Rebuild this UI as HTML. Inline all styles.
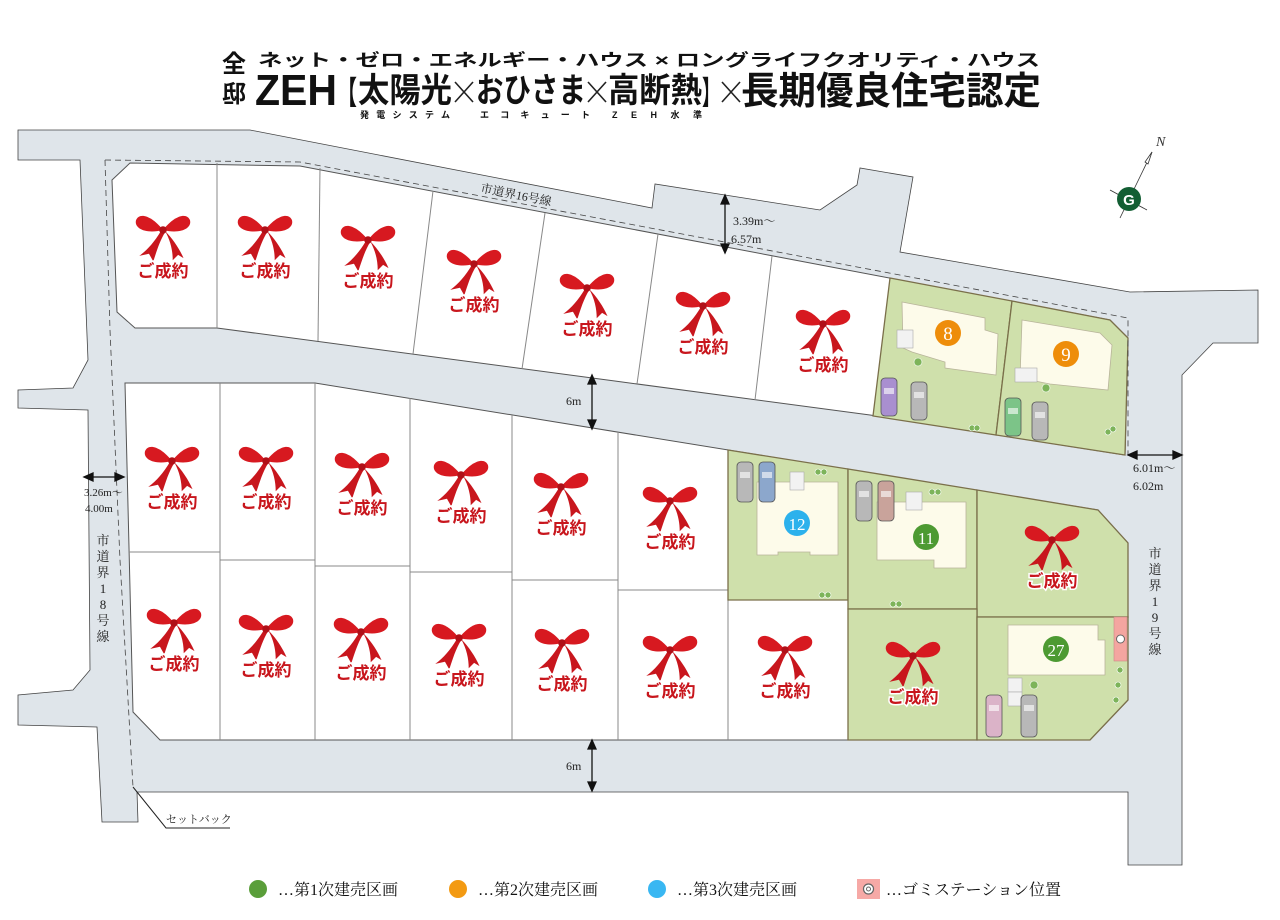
<!DOCTYPE html>
<html><head><meta charset="utf-8"><style>
html,body{margin:0;padding:0;background:#fff;}
svg{display:block;}
.s{font-family:"Liberation Serif","Noto Serif CJK SC","Noto Sans CJK JP",serif;}
.g{font-family:"Liberation Sans","Noto Sans CJK JP",sans-serif;font-weight:bold;}
</style></head><body>
<svg width="1280" height="920" viewBox="0 0 1280 920" xmlns="http://www.w3.org/2000/svg">
<defs>
<g id="bow" transform="scale(1.08)">
<path d="M0,0 C-10,-13 -22,-17 -25,-9 C-27,-1 -15,4 0,0Z" fill="#d71920"/>
<path d="M0,0 C10,-13 22,-17 25,-9 C27,-1 15,4 0,0Z" fill="#d71920"/>
<path d="M-2,1 C-8,11 -14,18 -22,24 L-13,22 L-9,29 C-6,20 -3,10 2,2Z" fill="#c8161d"/>
<path d="M2,1 C7,10 9,19 9,28 L14,23 L19,26 C15,17 9,8 2,1Z" fill="#c8161d"/>
<circle cx="0" cy="0" r="3.5" fill="#b01018"/>
</g>
</defs>

<!-- Title -->
<g class="g" fill="#111">
<text x="222" y="72" font-size="24">全</text>
<text x="222" y="102" font-size="24">邸</text>
<text x="258" y="66" font-size="17" textLength="782" lengthAdjust="spacingAndGlyphs">ネット・ゼロ・エネルギー・ハウス × ロングライフクオリティ・ハウス</text>
<text x="255" y="105" font-size="44" textLength="82" lengthAdjust="spacingAndGlyphs">ZEH</text>
<text x="337" y="104" font-size="32" textLength="20" lengthAdjust="spacingAndGlyphs">【</text>
<text x="358" y="102" font-size="34" textLength="94" lengthAdjust="spacingAndGlyphs">太陽光</text>
<text x="476" y="102" font-size="34" textLength="110" lengthAdjust="spacingAndGlyphs">おひさま</text>
<text x="608" y="102" font-size="34" textLength="94" lengthAdjust="spacingAndGlyphs">高断熱</text>
<text x="702" y="104" font-size="32" textLength="18" lengthAdjust="spacingAndGlyphs">】</text>
<text x="741" y="104" font-size="38" textLength="300" lengthAdjust="spacingAndGlyphs">長期優良住宅認定</text>
<text x="360" y="118" font-size="9" textLength="90" lengthAdjust="spacing">発電システム</text>
<text x="480" y="118" font-size="9" textLength="110" lengthAdjust="spacing">エコキュート</text>
<text x="612" y="118" font-size="9" textLength="90" lengthAdjust="spacing">ZEH水準</text>
</g>
<g stroke="#222" stroke-width="1.6">
<line x1="455" y1="82" x2="473" y2="102"/><line x1="473" y1="82" x2="455" y2="102"/>
<line x1="588" y1="82" x2="606" y2="102"/><line x1="606" y1="82" x2="588" y2="102"/>
<line x1="722" y1="82" x2="740" y2="102"/><line x1="740" y1="82" x2="722" y2="102"/>
</g>

<!-- Roads -->
<polygon points="18,130 250,130 652,208 655,184 820,210 857,185 860,168 913,177 900,252 1130,292 1258,290 1258,343 1213,343 1182,375 1182,865 1128,865 1128,792 137,792 138,822 102,822 97,727 18,725 18,695 73,690 90,670 88,410 18,408 18,390 73,388 88,360 80,160 18,160" fill="#dfe5ea" stroke="#444" stroke-width="0.8"/>

<!-- Upper block -->
<polygon points="112,180 130,163 300,166 1110,320 1128,338 1125,455 870,415 217,328 135,328 117,312" fill="#fff" stroke="#555" stroke-width="1"/>
<g stroke="#888" stroke-width="1">
<line x1="217" y1="163" x2="217" y2="328"/>
<line x1="320" y1="168" x2="318" y2="341"/>
<line x1="433" y1="191" x2="413" y2="354"/>
<line x1="545" y1="213" x2="522" y2="369"/>
<line x1="658" y1="234" x2="637" y2="384"/>
<line x1="772" y1="256" x2="755" y2="400"/>
</g>
<!-- Lower block -->
<polygon points="125,383 315,383 1098,510 1128,543 1128,700 1090,740 160,740 133,712" fill="#fff" stroke="#555" stroke-width="1"/>
<g stroke="#888" stroke-width="1">
<line x1="220" y1="383" x2="220" y2="740"/>
<line x1="315" y1="383" x2="315" y2="740"/>
<line x1="410" y1="398" x2="410" y2="740"/>
<line x1="512" y1="415" x2="512" y2="740"/>
<line x1="618" y1="432" x2="618" y2="740"/>
<line x1="728" y1="450" x2="728" y2="740"/>
<line x1="129" y1="552" x2="220" y2="552"/>
<line x1="220" y1="560" x2="315" y2="560"/>
<line x1="315" y1="566" x2="410" y2="566"/>
<line x1="410" y1="572" x2="512" y2="572"/>
<line x1="512" y1="580" x2="618" y2="580"/>
<line x1="618" y1="590" x2="728" y2="590"/>
<line x1="728" y1="600" x2="848" y2="600"/>
</g>

<!-- Green lots -->
<g fill="#cfe0ab" stroke="#7a6f4a" stroke-width="1.3">
<polygon points="890,278 1012,301 996,435 873,416"/>
<polygon points="1012,301 1110,320 1128,338 1125,455 996,435"/>
<polygon points="728,450 848,469 848,600 728,600"/>
<polygon points="848,469 977,490 977,609 848,609"/>
<polygon points="977,490 1098,510 1128,543 1128,617 977,617"/>
<polygon points="848,609 977,609 977,740 848,740"/>
<polygon points="977,617 1128,617 1128,700 1090,740 977,740"/>
</g>

<!-- Houses -->
<g fill="#fdfbea" stroke="#b8b49a" stroke-width="0.8">
<polygon points="902,302 985,318 985,330 998,334 996,375 945,368 945,362 912,352 903,348"/>
<polygon points="1022,320 1100,333 1112,345 1108,390 1050,384 1020,378"/>
<polygon points="757,482 838,482 838,555 810,555 810,552 778,552 778,555 757,555"/>
<polygon points="877,502 966,502 966,568 934,568 934,560 877,560"/>
<polygon points="1008,625 1098,625 1098,640 1105,640 1105,675 1008,675"/>
</g>
<g fill="#f2f2f2" stroke="#aaa" stroke-width="0.6">
<rect x="897" y="330" width="16" height="18"/><rect x="1015" y="368" width="22" height="14"/>
<rect x="790" y="472" width="14" height="18"/><rect x="906" y="492" width="16" height="18"/>
<rect x="1008" y="678" width="14" height="14"/><rect x="1008" y="692" width="14" height="14"/>
</g>
<!-- Cars -->
<g stroke="#555" stroke-width="0.8">
<rect x="881" y="378" width="16" height="38" rx="4" fill="#a98fd0"/>
<rect x="911" y="382" width="16" height="38" rx="4" fill="#b8b8b8"/>
<rect x="1005" y="398" width="16" height="38" rx="4" fill="#7cc488"/>
<rect x="1032" y="402" width="16" height="38" rx="4" fill="#b8b8b8"/>
<rect x="737" y="462" width="16" height="40" rx="4" fill="#b8b8b8"/>
<rect x="759" y="462" width="16" height="40" rx="4" fill="#8ca7cc"/>
<rect x="856" y="481" width="16" height="40" rx="4" fill="#b8b8b8"/>
<rect x="878" y="481" width="16" height="40" rx="4" fill="#c9a39b"/>
<rect x="986" y="695" width="16" height="42" rx="4" fill="#dbb3c8"/>
<rect x="1021" y="695" width="16" height="42" rx="4" fill="#b8b8b8"/>
</g>
<g fill="#fff" opacity="0.6">
<rect x="884" y="388" width="10" height="6"/><rect x="914" y="392" width="10" height="6"/>
<rect x="1008" y="408" width="10" height="6"/><rect x="1035" y="412" width="10" height="6"/>
<rect x="740" y="472" width="10" height="6"/><rect x="762" y="472" width="10" height="6"/>
<rect x="859" y="491" width="10" height="6"/><rect x="881" y="491" width="10" height="6"/>
<rect x="989" y="705" width="10" height="6"/><rect x="1024" y="705" width="10" height="6"/>
</g>
<!-- shrubs -->
<g fill="#7db45a" stroke="#fff" stroke-width="0.6">
<circle cx="918" cy="362" r="4"/><circle cx="972" cy="428" r="3"/><circle cx="977" cy="428" r="3"/>
<circle cx="1046" cy="388" r="4"/><circle cx="1108" cy="432" r="3"/><circle cx="1113" cy="429" r="3"/>
<circle cx="818" cy="472" r="3"/><circle cx="824" cy="472" r="3"/><circle cx="822" cy="595" r="3"/><circle cx="828" cy="595" r="3"/>
<circle cx="932" cy="492" r="3"/><circle cx="938" cy="492" r="3"/><circle cx="893" cy="604" r="3"/><circle cx="899" cy="604" r="3"/>
<circle cx="1034" cy="685" r="4"/><circle cx="1120" cy="670" r="3"/><circle cx="1118" cy="685" r="3"/><circle cx="1116" cy="700" r="3"/>
</g>

<!-- Gomi station -->
<rect x="1114" y="617" width="13" height="44" fill="#f4a5a0" stroke="#c88" stroke-width="0.6"/>
<circle cx="1120.5" cy="639" r="4" fill="#fff" stroke="#666" stroke-width="1"/>

<!-- Number circles -->
<g class="s" font-size="19" fill="#fff" text-anchor="middle">
<circle cx="948" cy="333" r="13" fill="#ee8d0a"/><text x="948" y="340">8</text>
<circle cx="1066" cy="354" r="13" fill="#ee8d0a"/><text x="1066" y="361">9</text>
<circle cx="797" cy="523" r="13" fill="#2cb1ec"/><text x="797" y="530" font-size="17">12</text>
<circle cx="926" cy="537" r="13" fill="#4d9a32"/><text x="926" y="544" font-size="17">11</text>
<circle cx="1056" cy="649" r="13" fill="#4d9a32"/><text x="1056" y="656" font-size="17">27</text>
</g>

<!-- Dashed boundary -->
<polyline points="105,160 300,162 1128,318 1128,455" fill="none" stroke="#444" stroke-width="0.8" stroke-dasharray="6,4"/>
<polyline points="105,160 110,330 120,560 133,787" fill="none" stroke="#444" stroke-width="0.8" stroke-dasharray="6,4"/>

<!-- Bows -->
<g>
<use href="#bow" x="163" y="230"/><use href="#bow" x="265" y="230"/><use href="#bow" x="368" y="240"/>
<use href="#bow" x="474" y="264"/><use href="#bow" x="587" y="288"/><use href="#bow" x="703" y="306"/><use href="#bow" x="823" y="324"/>
<use href="#bow" x="172" y="461"/><use href="#bow" x="266" y="461"/><use href="#bow" x="362" y="467"/><use href="#bow" x="461" y="475"/>
<use href="#bow" x="561" y="487"/><use href="#bow" x="670" y="501"/><use href="#bow" x="1052" y="540"/>
<use href="#bow" x="174" y="623"/><use href="#bow" x="266" y="629"/><use href="#bow" x="361" y="632"/><use href="#bow" x="459" y="638"/>
<use href="#bow" x="562" y="643"/><use href="#bow" x="670" y="650"/><use href="#bow" x="785" y="650"/><use href="#bow" x="913" y="656"/>
</g>
<g class="g" font-size="17" fill="#c8161d" stroke="#fff" stroke-width="3" paint-order="stroke" text-anchor="middle">
<text x="163" y="277">ご成約</text><text x="265" y="277">ご成約</text><text x="368" y="287">ご成約</text>
<text x="474" y="311">ご成約</text><text x="587" y="335">ご成約</text><text x="703" y="353">ご成約</text><text x="823" y="371">ご成約</text>
<text x="172" y="508">ご成約</text><text x="266" y="508">ご成約</text><text x="362" y="514">ご成約</text><text x="461" y="522">ご成約</text>
<text x="561" y="534">ご成約</text><text x="670" y="548">ご成約</text><text x="1052" y="587">ご成約</text>
<text x="174" y="670">ご成約</text><text x="266" y="676">ご成約</text><text x="361" y="679">ご成約</text><text x="459" y="685">ご成約</text>
<text x="562" y="690">ご成約</text><text x="670" y="697">ご成約</text><text x="785" y="697">ご成約</text><text x="913" y="703">ご成約</text>
</g>

<!-- Dimension arrows -->
<g stroke="#111" stroke-width="1.3" fill="#111">
<line x1="725" y1="200" x2="725" y2="248"/><path d="M725,195 l-4,9 h8z M725,253 l-4,-9 h8z"/>
<line x1="592" y1="380" x2="592" y2="424"/><path d="M592,375 l-4,9 h8z M592,429 l-4,-9 h8z"/>
<line x1="592" y1="745" x2="592" y2="786"/><path d="M592,740 l-4,9 h8z M592,791 l-4,-9 h8z"/>
<line x1="90" y1="477" x2="118" y2="477"/><path d="M84,477 l9,-4 v8z M124,477 l-9,-4 v8z"/>
<line x1="1134" y1="455" x2="1176" y2="455"/><path d="M1128,455 l9,-4 v8z M1182,455 l-9,-4 v8z"/>
</g>
<g class="s" font-size="12" fill="#222">
<text x="480" y="192" transform="rotate(11 480 192)">市道界16号線</text>
<text x="733" y="225">3.39m～</text><text x="731" y="243">6.57m</text>
<text x="566" y="405">6m</text>
<text x="566" y="770">6m</text>
<text x="84" y="496" font-size="11">3.26m～</text><text x="85" y="512" font-size="11">4.00m</text>
<text x="1133" y="472">6.01m～</text><text x="1133" y="490">6.02m</text>
<text x="166" y="823" font-size="11">セットバック</text>
</g>
<g class="s" font-size="13" fill="#222" text-anchor="middle">
<text x="103" y="545">市</text><text x="103" y="561">道</text><text x="103" y="577">界</text><text x="103" y="593">1</text><text x="103" y="609">8</text><text x="103" y="625">号</text><text x="103" y="641">線</text>
<text x="1155" y="558">市</text><text x="1155" y="574">道</text><text x="1155" y="590">界</text><text x="1155" y="606">1</text><text x="1155" y="622">9</text><text x="1155" y="638">号</text><text x="1155" y="654">線</text>
</g>
<polyline points="133,787 166,828 230,828" fill="none" stroke="#222" stroke-width="1"/>

<!-- Compass -->
<g stroke="#333" stroke-width="0.8">
<line x1="1152" y1="152" x2="1120" y2="218"/>
<line x1="1110" y1="190" x2="1147" y2="210"/>
<path d="M1152,152 l-7,10 l3,2z" fill="#fff"/>
</g>
<circle cx="1129" cy="199" r="12" fill="#135e33"/>
<text x="1129" y="205" class="g" font-size="15" fill="#fff" text-anchor="middle">G</text>
<text x="1156" y="146" class="s" font-size="14" font-style="italic" fill="#333">N</text>

<!-- Legend -->
<circle cx="258" cy="889" r="9" fill="#5a9e3a"/>
<circle cx="458" cy="889" r="9" fill="#f39a12"/>
<circle cx="657" cy="889" r="9" fill="#39b7f2"/>
<rect x="857" y="879" width="23" height="20" fill="#f6a9a6"/>
<circle cx="868.5" cy="889" r="5" fill="#fff" stroke="#666" stroke-width="1.2"/>
<circle cx="868.5" cy="889" r="2" fill="none" stroke="#666" stroke-width="1"/>
<g class="s" font-size="16" fill="#111">
<text x="278" y="895">…第1次建売区画</text>
<text x="478" y="895">…第2次建売区画</text>
<text x="677" y="895">…第3次建売区画</text>
<text x="886" y="895">…ゴミステーション位置</text>
</g>
</svg>
</body></html>
